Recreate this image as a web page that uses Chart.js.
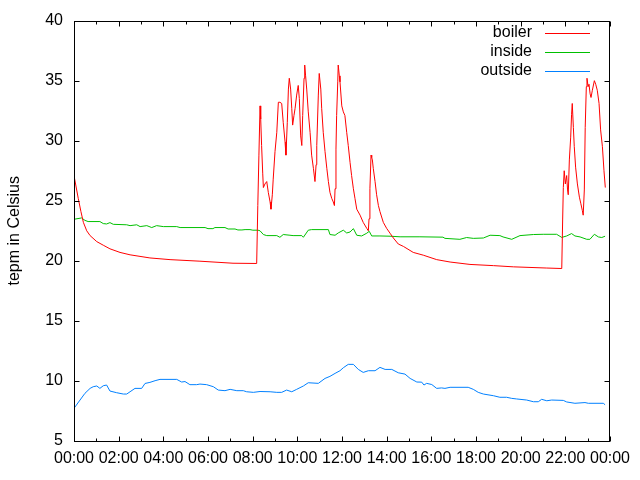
<!DOCTYPE html>
<html>
<head>
<meta charset="utf-8">
<script src="https://cdn.jsdelivr.net/npm/chart.js@4/dist/chart.umd.min.js"></script>
<style>
  html, body { margin: 0; padding: 0; background: #fff; }
  #wrap { width: 640px; height: 480px; }
</style>
</head>
<body>
<div id="wrap"><canvas id="chart" width="640" height="480"></canvas></div>
<script>
// --- data (hours since midnight, temperatures in °C) ---
const seriesNames = ['boiler', 'inside', 'outside'];
const seriesColors = ['#ff0000', '#00c000', '#0080ff'];
const xTickLabels = ['00:00', '02:00', '04:00', '06:00', '08:00', '10:00', '12:00',
                     '14:00', '16:00', '18:00', '20:00', '22:00', '00:00'];
const yAxisTitle = 'tepm in Celsius';

const boilerHours = [0.00, 0.19, 0.31, 0.42, 0.57, 0.72, 1.02, 1.31, 1.61, 2.06, 2.51, 3.40, 4.30, 5.64, 7.12,
  8.18, 8.23, 8.28, 8.33, 8.36, 8.40, 8.45, 8.48, 8.55, 8.63, 8.70, 8.78, 8.82, 8.88, 8.92,
  9.00, 9.08, 9.15, 9.22, 9.30, 9.37, 9.45, 9.49, 9.55, 9.60, 9.64, 9.70, 9.75, 9.79, 9.85, 9.90, 9.97,
  10.04, 10.09, 10.15, 10.20, 10.24, 10.30, 10.33, 10.37, 10.42, 10.49, 10.57, 10.64, 10.72, 10.79, 10.84, 10.87, 10.94, 10.98,
  11.05, 11.09, 11.16, 11.24, 11.32, 11.39, 11.46, 11.54, 11.61, 11.66, 11.69, 11.73, 11.76, 11.81, 11.83, 11.88, 11.91, 11.99,
  12.06, 12.13, 12.21, 12.28, 12.36, 12.43, 12.51, 12.58, 12.66, 12.81, 12.95,
  13.11, 13.18, 13.21, 13.25, 13.30, 13.33, 13.36, 13.40, 13.48, 13.55, 13.63, 13.70, 13.85,
  14.00, 14.15, 14.30, 14.52, 14.75, 15.19, 15.64, 16.24, 16.84, 17.73, 18.78, 19.67, 21.17,
  21.84, 21.88, 21.91, 21.95, 22.00, 22.06, 22.10, 22.13, 22.18, 22.24, 22.28, 22.31, 22.36, 22.40, 22.46,
  22.54, 22.63, 22.69, 22.76, 22.80, 22.85, 22.89, 22.94, 22.97, 23.02, 23.06, 23.11, 23.15, 23.21,
  23.30, 23.36, 23.43, 23.51, 23.58, 23.66, 23.73, 23.79];
const boilerTemps = [27.1, 25.2, 24.1, 23.2, 22.5, 22.1, 21.6, 21.3, 21.0, 20.7, 20.5, 20.24, 20.1, 19.97, 19.8,
  19.78, 24.6, 28.8, 32.9, 31.8, 29.6, 27.3, 26.1, 26.4, 26.6, 25.7, 24.9, 24.3, 25.5, 26.8,
  29.1, 30.7, 33.2, 33.2, 33.1, 31.5, 29.9, 28.8, 31.5, 34.3, 35.2, 34.3, 32.7, 31.3, 32.1, 32.7, 33.8,
  34.6, 33.5, 30.4, 29.6, 32.1, 35.2, 36.3, 35.4, 34.3, 32.4, 30.7, 28.8, 27.7, 26.6, 28.0, 29.6, 33.8, 35.6,
  34.3, 32.7, 30.7, 29.1, 27.7, 26.6, 25.7, 25.2, 24.9, 24.6, 26.0, 29.3, 32.1, 34.9, 36.3, 35.4, 34.9, 32.9,
  32.4, 32.1, 30.7, 29.6, 28.2, 27.1, 26.0, 25.2, 24.3, 23.8, 23.2,
  22.7, 22.5, 23.5, 26.0, 28.8, 28.6, 28.4, 27.7, 26.6, 25.5, 24.6, 24.1, 23.2,
  22.7, 22.3, 21.9, 21.4, 21.2, 20.7, 20.47, 20.1, 19.9, 19.7, 19.6, 19.5, 19.4,
  19.36, 23.4, 26.1, 27.5, 26.4, 27.1, 25.9, 25.5, 28.4, 30.3, 32.2, 33.1, 31.1, 29.5, 27.8,
  26.4, 25.3, 24.8, 24.2, 23.8, 25.9, 31.1, 34.5, 35.2, 34.5, 34.7, 33.9, 33.6, 34.2,
  35.0, 34.7, 34.2, 33.1, 30.9, 29.5, 27.5, 26.1];

const insideHours = [0.00, 0.34, 0.49, 0.63, 1.16, 1.31, 1.46, 1.61, 1.76, 2.36, 2.51, 2.81, 2.96, 3.26, 3.48, 3.70,
  4.00, 4.60, 4.75, 5.87, 6.00, 6.22, 6.31, 6.76, 6.90, 7.21, 7.34, 7.52, 7.66, 7.88, 8.01, 8.24, 8.33,
  8.48, 8.63, 9.08, 9.22, 9.37, 9.67, 9.81, 10.20, 10.27, 10.49, 10.64, 11.39, 11.46, 11.69, 11.83,
  12.06, 12.21, 12.36, 12.51, 12.66, 12.88, 13.11, 13.22, 13.33, 13.70, 14.15, 14.60, 15.49, 16.52,
  16.61, 17.28, 17.58, 17.88, 18.33, 18.63, 19.07, 19.21, 19.60, 19.97, 20.57, 21.01, 21.61,
  21.84, 22.06, 22.28, 22.43, 22.66, 22.96, 23.10, 23.30, 23.48, 23.63, 23.78];
const insideTemps = [23.46, 23.57, 23.37, 23.27, 23.27, 23.1, 23.07, 23.18, 23.04, 23.0, 22.93, 23.0, 22.85, 22.93, 22.77, 22.93,
  22.85, 22.85, 22.77, 22.77, 22.68, 22.68, 22.77, 22.77, 22.65, 22.65, 22.57, 22.57, 22.6, 22.6, 22.55, 22.55, 22.5,
  22.19, 22.1, 22.1, 21.96, 22.19, 22.13, 22.1, 22.1, 21.96, 22.55, 22.6, 22.6, 22.19, 22.13, 22.32,
  22.55, 22.32, 22.4, 22.68, 22.13, 22.07, 22.3, 22.46, 22.07, 22.07, 22.05, 22.0, 22.0, 21.97,
  21.87, 21.79, 21.94, 21.87, 21.9, 22.13, 22.1, 21.99, 21.79, 22.1, 22.19, 22.21, 22.21,
  21.95, 22.07, 22.27, 22.07, 21.99, 21.79, 21.79, 22.21, 21.99, 21.94, 22.05];

const outsideHours = [0.00, 0.27, 0.49, 0.72, 0.86, 1.02, 1.16, 1.31, 1.46, 1.61, 1.91, 2.21, 2.36, 2.51, 2.73,
  3.03, 3.18, 3.40, 3.63, 3.85, 4.60, 4.82, 4.97, 5.19, 5.49, 5.64, 5.94, 6.24, 6.46, 6.76, 6.99,
  7.29, 7.58, 7.73, 8.03, 8.33, 8.78, 9.08, 9.30, 9.52, 9.75, 9.97, 10.27, 10.49, 10.94, 11.24,
  11.46, 11.69, 11.91, 12.06, 12.28, 12.51, 12.73, 12.95, 13.18, 13.48, 13.70, 13.93, 14.23, 14.52,
  14.82, 15.05, 15.35, 15.57, 15.67, 15.79, 16.02, 16.24, 16.46, 16.61, 16.84, 17.65, 17.88, 18.10,
  18.33, 18.78, 19.07, 19.37, 19.60, 19.82, 20.27, 20.57, 20.79, 20.94, 21.17, 21.39, 21.91, 22.06,
  22.43, 22.88, 23.03, 23.70, 23.78];
const outsideTemps = [7.72, 8.41, 8.97, 9.38, 9.52, 9.58, 9.38, 9.6, 9.66, 9.16, 9.02, 8.91, 8.91, 9.1, 9.38,
  9.38, 9.79, 9.88, 10.02, 10.13, 10.13, 9.91, 9.95, 9.69, 9.69, 9.74, 9.69, 9.52, 9.24, 9.19, 9.3,
  9.19, 9.19, 9.1, 9.05, 9.12, 9.1, 9.05, 9.05, 9.24, 9.1, 9.3, 9.58, 9.85, 9.8, 10.21,
  10.38, 10.63, 10.85, 11.1, 11.38, 11.38, 10.96, 10.71, 10.85, 10.85, 11.13, 10.96, 10.96, 10.68,
  10.57, 10.21, 9.91, 9.9, 9.66, 9.8, 9.7, 9.38, 9.42, 9.38, 9.47, 9.47, 9.30, 9.05,
  8.91, 8.77, 8.64, 8.64, 8.55, 8.5, 8.41, 8.27, 8.27, 8.47, 8.35, 8.41, 8.38, 8.25,
  8.14, 8.2, 8.14, 8.14, 8.02];

// --- helpers ---
const FONT = "'Liberation Sans', Arial, sans-serif";

function toPoints(hours, temps) {
    return hours.map((h, i) => ({ x: h, y: temps[i] }));
}

const seriesData = [
    toPoints(boilerHours, boilerTemps),
    toPoints(insideHours, insideTemps),
    toPoints(outsideHours, outsideTemps)
];

// gnuplot style frame: box border, inward ticks on all four sides, legend top right
const gnuplotFrame = {
    id: 'gnuplotFrame',
    afterDraw(chart) {
        const ctx = chart.ctx;
        const a = chart.chartArea;
        const xs = chart.scales.x;
        const ys = chart.scales.y;
        const L = Math.round(a.left) + 0.5, R = Math.round(a.right) - 0.5;
        const T = Math.round(a.top) + 0.5, B = Math.round(a.bottom) + 0.5;

        ctx.save();
        ctx.strokeStyle = '#000';
        ctx.lineWidth = 1;
        ctx.beginPath();

        // x ticks (every hour, long every 2 hours)
        for (let h = 0; h <= 24; h++) {
            const px = Math.round(xs.getPixelForValue(h)) + 0.5;
            const len = h % 2 === 0 ? 5 : 3;
            ctx.moveTo(px, B); ctx.lineTo(px, B - len);
            ctx.moveTo(px, T); ctx.lineTo(px, T + len);
        }
        // y ticks
        for (let v = 5; v <= 40; v += 5) {
            const py = Math.round(ys.getPixelForValue(v)) + 0.5;
            ctx.moveTo(L, py); ctx.lineTo(L + 5, py);
            ctx.moveTo(R, py); ctx.lineTo(R - 5, py);
        }
        ctx.stroke();
        ctx.strokeRect(L, T, R - L, B - T);

        // legend
        ctx.font = '16px ' + FONT;
        ctx.textAlign = 'right';
        ctx.textBaseline = 'middle';
        chart.data.datasets.forEach((ds, i) => {
            const y = 33 + i * 19;
            ctx.fillStyle = '#000';
            ctx.fillText(ds.label, 532, y);
            ctx.strokeStyle = ds.borderColor;
            ctx.beginPath();
            ctx.moveTo(545, y + 0.5);
            ctx.lineTo(590, y + 0.5);
            ctx.stroke();
        });
        ctx.restore();
    }
};

const chart = new Chart(document.getElementById('chart'), {
    type: 'line',
    data: {
        datasets: seriesNames.map((name, i) => ({
            label: name,
            data: seriesData[i],
            borderColor: seriesColors[i],
            backgroundColor: seriesColors[i],
            borderWidth: 1,
            pointRadius: 0,
            tension: 0,
            fill: false
        }))
    },
    options: {
        responsive: false,
        animation: false,
        devicePixelRatio: 1,
        layout: { padding: { top: 20, right: 30, bottom: 0, left: 0 } },
        plugins: {
            legend: { display: false },
            tooltip: { enabled: false }
        },
        scales: {
            x: {
                type: 'linear',
                min: 0,
                max: 24,
                grid: { display: false, drawTicks: false },
                border: { display: false },
                ticks: {
                    stepSize: 1,
                    autoSkip: false,
                    maxRotation: 0,
                    padding: 8,
                    color: '#000',
                    font: { family: FONT, size: 16 },
                    callback: v => (v % 2 === 0 ? xTickLabels[v / 2] : '')
                },
                afterFit: s => { s.height = 39; }
            },
            y: {
                min: 5,
                max: 40,
                grid: { display: false, drawTicks: false },
                border: { display: false },
                ticks: {
                    stepSize: 5,
                    padding: 11,
                    color: '#000',
                    font: { family: FONT, size: 16 }
                },
                title: {
                    display: true,
                    text: yAxisTitle,
                    color: '#000',
                    font: { family: FONT, size: 16 },
                    padding: { top: 5, bottom: 0 }
                },
                afterFit: s => { s.width = 74; }
            }
        }
    },
    plugins: [gnuplotFrame]
});
</script>
</body>
</html>
